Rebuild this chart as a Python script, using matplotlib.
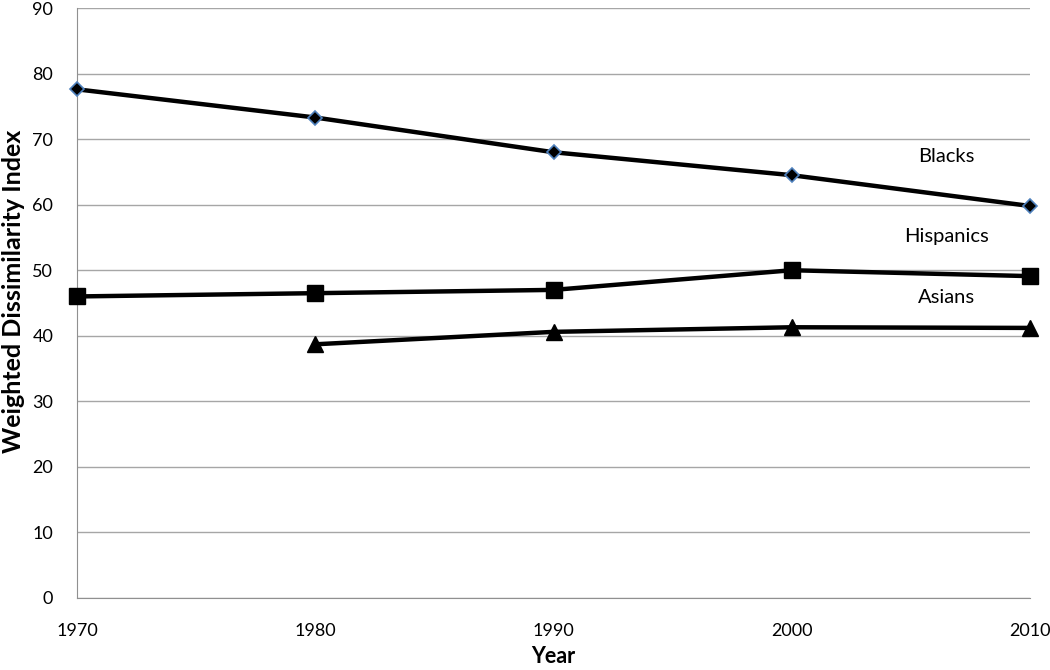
import matplotlib.pyplot as plt
import numpy as np

plt.rcParams['font.family'] = ['Lato', 'DejaVu Sans']

years = [1970, 1980, 1990, 2000, 2010]
blacks = [77.6, 73.3, 68.0, 64.5, 59.8]
hispanics = [46.0, 46.5, 47.0, 50.0, 49.1]
asian_years = [1980, 1990, 2000, 2010]
asians = [38.7, 40.6, 41.3, 41.2]

fig = plt.figure(figsize=(10.5, 6.7), dpi=100)
ax = fig.add_axes([0.0733, 0.1075, 0.9077, 0.8805])

ax.plot(years, blacks, color='black', lw=3.2, marker='D', ms=7,
        mfc='black', mec='#4f81bd', mew=1.2, zorder=3, clip_on=False)
ax.plot(years, hispanics, color='black', lw=3.2, marker='s', ms=11.5,
        mfc='black', mec='black', zorder=3, clip_on=False)
ax.plot(asian_years, asians, color='black', lw=3.2, marker='^', ms=11.5,
        mfc='black', mec='black', zorder=3, clip_on=False)

ax.text(2006.5, 67.4, 'Blacks', fontsize=14.5, ha='center', va='center')
ax.text(2006.5, 55.2, 'Hispanics', fontsize=14.5, ha='center', va='center')
ax.text(2006.5, 45.9, 'Asians', fontsize=14.5, ha='center', va='center')

ax.set_xlim(1970, 2010)
ax.set_ylim(0, 90)
ax.set_xticks(years)
ax.set_yticks(np.arange(0, 91, 10))
ax.grid(axis='y', color='#a6a6a6', lw=1)
ax.set_axisbelow(True)
for s in ['top', 'right']:
    ax.spines[s].set_visible(False)
for s in ['left', 'bottom']:
    ax.spines[s].set_color('#909090')
ax.tick_params(length=0, labelsize=13)
ax.tick_params(axis='x', pad=18)
ax.tick_params(axis='y', pad=17)

ax.set_xlabel('Year', fontsize=15.5, fontweight='bold', labelpad=5)
ax.set_ylabel('Weighted Dissimilarity Index', fontsize=18, fontweight='bold',
              va='center')
ax.yaxis.set_label_coords(-0.067, 0.52)

fig.savefig('out.png', dpi=100)
